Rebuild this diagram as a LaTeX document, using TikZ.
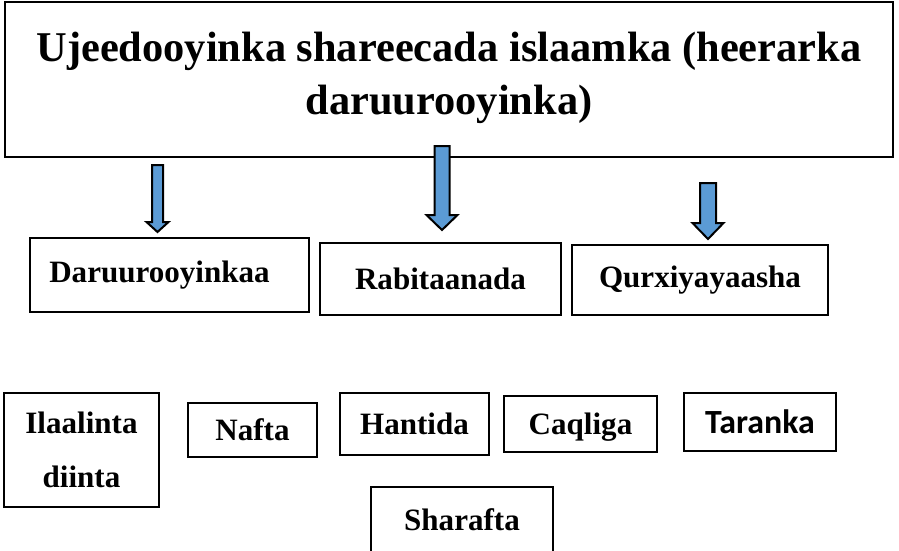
\documentclass[tikz,border=0pt]{standalone}
\usepackage{fontspec}
\setmainfont{Liberation Serif}
\newfontfamily\calibrifont{Carlito}
\usetikzlibrary{positioning}

\definecolor{arrowblue}{HTML}{5B9BD5}
\newdimen\px \px=0.75pt
% block arrow pointing down: centre x, top y, head start y, tip y, half shaft, half head
\newcommand{\downblock}[6]{%
  \filldraw[blockarrow] (#1-#5,#2) -- (#1+#5,#2) -- (#1+#5,#3) -- (#1+#6,#3)
    -- (#1,#4) -- (#1-#6,#3) -- (#1-#5,#3) -- cycle;}

\begin{document}
\begin{tikzpicture}[
  x=0.75pt, y=-0.75pt,
  box/.style={
    draw=black, line width=1.2pt, inner sep=0pt, align=center,
    font=\fontsize{23.3}{41}\selectfont\bfseries
  },
  titlebox/.style={box,
    font=\fontsize{31.8}{40}\selectfont\bfseries
  },
  blockarrow/.style={
    draw=black, fill=arrowblue, line width=1.5pt, line join=miter
  },
]
\useasboundingbox (0,0) rectangle (899,550);
\clip (0,0) rectangle (899,550);

\node[titlebox, minimum width=888\px, minimum height=155\px] (goal) at (449,79.5)
  {Ujeedooyinka shareecada islaamka (heerarka\\daruurooyinka)\\[-31pt]\mbox{}};

% three levels
\node[box, minimum width=279\px, minimum height=74\px] (darur) at (169.5,275) {Daruurooyinkaa\hspace*{20\px}};
\node[box, minimum width=241\px, minimum height=72\px, text depth=0pt] (rabit) at (440.5,279) {Rabitaanada};
\node[box, minimum width=256\px, minimum height=70\px] (qurx)  at (700,280)   {Qurxiyayaasha};

\downblock{157.5}{165}{222}{232}{5.5}{11}
\downblock{442}{146}{215}{230}{7.5}{15.5}
\downblock{708}{183}{223}{239}{8}{15.5}

% the five (six) necessities
\node[box, minimum width=155\px, minimum height=114\px] (diin)  at (81.5,450) {Ilaalinta\\diinta};
\node[box, minimum width=129\px, minimum height=54\px]  (nafs)  at (252.5,430) {Nafta};
\node[box, minimum width=149\px, minimum height=62\px]  (maal)  at (414.5,424) {Hantida};
\node[box, minimum width=153\px, minimum height=56\px, text depth=0pt] (caql) at (580.5,424) {Caqliga};
\node[box, minimum width=152\px, minimum height=58\px, font=\fontsize{25.4}{30}\selectfont\calibrifont\bfseries]
  (nasl) at (760,422) {Taranka};
\node[box, minimum width=182\px, minimum height=66\px]  (sharf) at (462,520) {Sharafta};

\end{tikzpicture}
\end{document}
